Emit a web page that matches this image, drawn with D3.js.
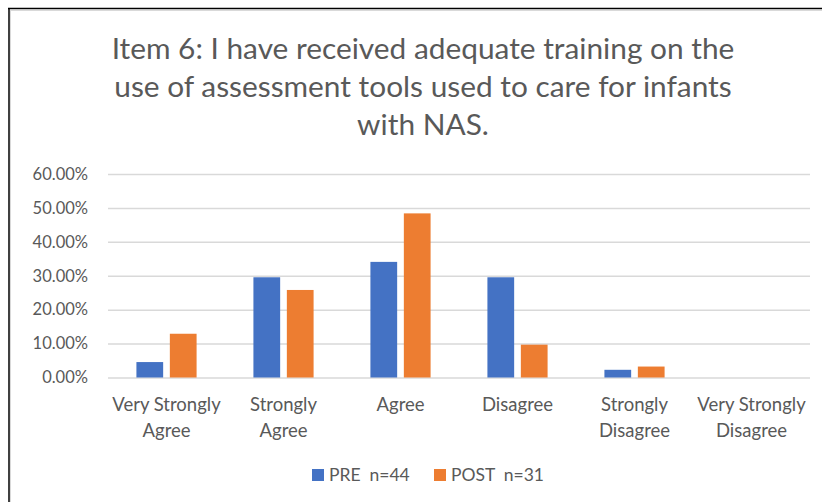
<!DOCTYPE html>
<html><head><meta charset="utf-8">
<script src="https://cdn.jsdelivr.net/npm/d3@7"></script>
<style>
html,body{margin:0;padding:0;background:#fff;}
svg{display:block;}
text{font-family:Lato,"Open Sans",sans-serif;fill:#595959;}
</style></head>
<body>
<svg id="c" width="822" height="502"></svg>
<script>
const categories = [["Very Strongly","Agree"],["Strongly","Agree"],["Agree"],["Disagree"],["Strongly","Disagree"],["Very Strongly","Disagree"]];
const seriesNames = ["PRE  n=44","POST  n=31"];
const pre = [0.0455,0.2955,0.3409,0.2955,0.0227,0];
const post = [0.1290,0.2581,0.4839,0.0968,0.0323,0];
const yTicks = [0,0.1,0.2,0.3,0.4,0.5,0.6];
const titleLines = ["Item 6: I have received adequate training on the","use of assessment tools used to care for infants","with NAS."];
const colors = ["#4472C4","#ED7D31"];

const svg = d3.select("#c");
// frame
svg.append("rect").attr("x",10.5).attr("y",10.5).attr("width",830).attr("height",520).attr("fill","#fff").attr("stroke","#d9d9d9").attr("stroke-width",1);
svg.append("line").attr("x1",8).attr("x2",822).attr("y1",8.5).attr("y2",8.5).attr("stroke","#000").attr("stroke-width",1.5);
svg.append("line").attr("x1",9).attr("x2",9).attr("y1",8).attr("y2",502).attr("stroke","#000").attr("stroke-width",1.5);

// title
const tg = svg.append("g");
const tl = tg.selectAll("text").data(titleLines).enter().append("text")
  .attr("x",423).attr("y",(d,i)=>59+i*38).attr("text-anchor","middle")
  .style("font-size","28px").text(d=>d);
const w0 = tl.nodes()[0].getComputedTextLength();
tl.style("font-size",(28*623/w0).toFixed(2)+"px");

const x = d3.scaleBand().domain(d3.range(categories.length)).range([108,810]).paddingInner(0).paddingOuter(0);
const y = d3.scaleLinear().domain([0,0.6]).range([377.5,174]);
const xs = d3.scaleBand().domain([0,1]).range([0,x.bandwidth()]).paddingInner(0.2).paddingOuter(0.85);

// grid
const yAxis = d3.axisLeft(y).tickValues(yTicks).tickSize(-(810-108)).tickFormat(d=>(d*100).toFixed(2)+"%").tickPadding(20);
const ga = svg.append("g").attr("transform","translate(108,0)").call(yAxis);
ga.select(".domain").remove();
ga.selectAll(".tick line").attr("stroke","#d9d9d9").attr("stroke-width",1.5);
ga.selectAll(".tick text").style("font-size","16.5px").style("fill","#595959").style("font-family","Lato");

// bars
const data = [pre,post];
data.forEach((s,si)=>{
  svg.append("g").selectAll("rect").data(s).enter().append("rect")
    .attr("x",(d,i)=>x(i)+xs(si)).attr("width",xs.bandwidth())
    .attr("y",d=>y(d)).attr("height",d=>y(0)-y(d)).attr("fill",colors[si]);
});

// category labels
const cg = svg.append("g").selectAll("text").data(categories).enter().append("text")
  .attr("text-anchor","middle").style("font-size","18.5px")
  .attr("transform",(d,i)=>`translate(${x(i)+x.bandwidth()/2},0)`);
cg.selectAll("tspan").data(d=>d).enter().append("tspan").attr("x",0).attr("y",(d,i)=>411+i*26).text(d=>d);

// legend
const lg = svg.append("g");
const legX = [312,434];
seriesNames.forEach((n,i)=>{
  lg.append("rect").attr("x",legX[i]).attr("y",469).attr("width",12).attr("height",12).attr("fill",colors[i]);
  lg.append("text").attr("x",legX[i]+17).attr("y",481).style("font-size","17.5px").style("white-space","pre").attr("xml:space","preserve").text(n);
});
</script>
</body></html>
